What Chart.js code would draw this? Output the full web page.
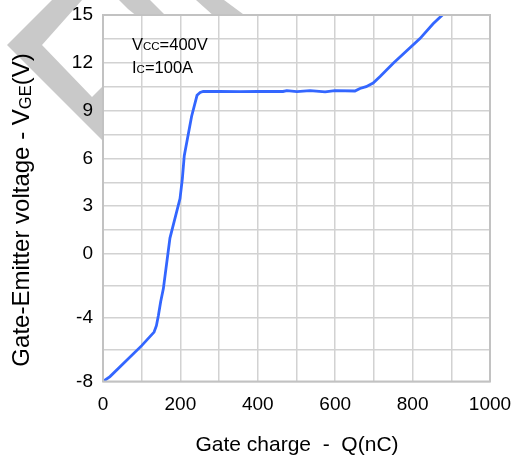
<!DOCTYPE html>
<html>
<head>
<meta charset="utf-8">
<script src="https://cdn.jsdelivr.net/npm/chart.js@4"></script>
<style>
  html, body { margin: 0; padding: 0; background: #fff; }
</style>
</head>
<body>
<canvas id="gateChart" width="513" height="460"></canvas>
<script>
// gate charge curve: Q (nC) against V_GE (V)
const chargeNc = [0, 18, 100, 132, 138, 143, 149, 156, 173, 199, 205, 210, 229, 243, 251, 259, 300, 354, 400, 465, 475, 501, 535, 574, 599, 651, 664, 680, 698, 716, 750, 819, 853, 877];
const gateVoltage = [-8, -7.69, -5.75, -4.9, -4.5, -3.87, -3.0, -2.17, 1.0, 3.48, 4.72, 6.17, 8.65, 9.96, 10.14, 10.2, 10.21, 10.19, 10.2, 10.2, 10.25, 10.19, 10.25, 10.17, 10.25, 10.23, 10.39, 10.5, 10.73, 11.14, 11.97, 13.52, 14.45, 15];

const yGridValues = [-8, -6, -4, -2, 0, 1.5, 3, 4.5, 6, 7.5, 9, 10.5, 12, 13.5, 15];
const yTickLabels = [-8, -4, 0, 3, 6, 9, 12, 15];
const xTickLabels = [0, 200, 400, 600, 800, 1000];

const FONT = "'Liberation Sans', Arial, sans-serif";
const font = (size) => `${size}px ${FONT}`;

// text made of runs so subscripts can be mixed in
const yTitle = [["Gate-Emitter voltage - V", 24, 0], ["GE", 16.5, 2], ["(V)", 24, 0]];
const xTitle = [["Gate charge  -  Q(nC)", 21, 0]];
const noteLines = [
  [["V", 16.5, 0], ["CC", 11.5, 0], ["=400V", 16.5, 0]],
  [["I", 16.5, 0], ["C", 11.5, 0], ["=100A", 16.5, 0]],
];

function drawRuns(ctx, runs, x, y, align) {
  let total = 0;
  runs.forEach(([text, size]) => { ctx.font = font(size); total += ctx.measureText(text).width; });
  let cx = align === "center" ? x - total / 2 : x;
  runs.forEach(([text, size, dy]) => {
    ctx.font = font(size);
    ctx.fillText(text, cx, y + dy);
    cx += ctx.measureText(text).width;
  });
}

// grey background marks behind the plot, plot area filled white on top
const backdrop = {
  id: "backdrop",
  beforeDraw(chart) {
    const { ctx, chartArea: a } = chart;
    ctx.save();
    ctx.fillStyle = "#fff";
    ctx.fillRect(0, 0, chart.width, chart.height);
    ctx.fillStyle = "#c9c9c9";
    ctx.beginPath();
    ctx.moveTo(52, 0); ctx.lineTo(7, 45); ctx.lineTo(112, 150);
    ctx.lineTo(112, 77); ctx.lineTo(92, 97); ctx.lineTo(42, 45); ctx.lineTo(82, 0);
    ctx.closePath(); ctx.fill();
    ctx.beginPath();
    ctx.moveTo(119, 0); ctx.lineTo(150, 0); ctx.lineTo(167, 17); ctx.lineTo(138, 17);
    ctx.quadraticCurveTo(128, 10, 119, 0);
    ctx.closePath(); ctx.fill();
    ctx.beginPath();
    ctx.moveTo(196, 0); ctx.lineTo(224, 0); ctx.lineTo(247, 17); ctx.lineTo(215, 17);
    ctx.closePath(); ctx.fill();
    ctx.fillStyle = "#fff";
    ctx.fillRect(a.left, a.top, a.right - a.left, a.bottom - a.top);
    ctx.restore();
  },
  afterDatasetsDraw(chart) {
    const { ctx, chartArea: a } = chart;
    ctx.save();
    ctx.strokeStyle = "#c2c2c2";
    ctx.lineWidth = 2;
    ctx.strokeRect(a.left, a.top, a.right - a.left, a.bottom - a.top);
    ctx.restore();
  },
  afterDraw(chart) {
    const { ctx } = chart;
    ctx.save();
    ctx.fillStyle = "#000";
    ctx.textBaseline = "alphabetic";
    noteLines.forEach((runs, i) => drawRuns(ctx, runs, 132, 50 + i * 22.5, "left"));
    drawRuns(ctx, xTitle, 297, 451, "center");
    ctx.translate(29, 210);
    ctx.rotate(-Math.PI / 2);
    drawRuns(ctx, yTitle, 0, 0, "center");
    ctx.restore();
  },
};

new Chart(document.getElementById("gateChart"), {
  type: "line",
  data: {
    datasets: [{
      data: chargeNc.map((q, i) => ({ x: q, y: gateVoltage[i] })),
      borderColor: "#3366ff",
      borderWidth: 2.8,
      pointRadius: 0,
      tension: 0,
    }],
  },
  plugins: [backdrop],
  options: {
    responsive: false,
    animation: false,
    layout: { padding: { left: 0, right: 23, top: 15, bottom: 0 } },
    plugins: { legend: { display: false }, tooltip: { enabled: false } },
    scales: {
      x: {
        type: "linear",
        min: 0,
        max: 1000,
        afterFit(scale) {
          scale.height = 78.5;
          scale.paddingLeft = 0;
          scale.paddingRight = 0;
        },
        grid: { color: "#d2d2d2", lineWidth: 1.5, drawTicks: false },
        border: { display: false },
        ticks: {
          stepSize: 100,
          padding: 12,
          autoSkip: false,
          minRotation: 0,
          maxRotation: 0,
          color: "#000",
          font: { family: FONT, size: 19 },
          callback: (v) => (xTickLabels.includes(v) ? String(v) : ""),
        },
      },
      y: {
        type: "linear",
        min: -8,
        max: 15,
        afterFit(scale) {
          scale.width = 103;
          scale.paddingTop = 0;
          scale.paddingBottom = 0;
        },
        afterBuildTicks(scale) { scale.ticks = yGridValues.map((v) => ({ value: v })); },
        grid: { color: "#d2d2d2", lineWidth: 1.5, drawTicks: false },
        border: { display: false },
        ticks: {
          padding: 10,
          autoSkip: false,
          color: "#000",
          font: { family: FONT, size: 19 },
          callback: (v) => (yTickLabels.includes(v) ? String(v) : ""),
        },
      },
    },
  },
});
</script>
</body>
</html>
